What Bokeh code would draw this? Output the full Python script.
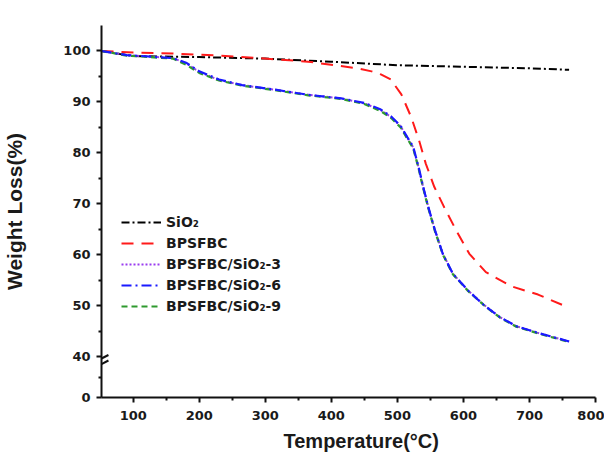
from bokeh.plotting import figure
from bokeh.models import Range1d, FixedTicker, Legend, LegendItem, Title
from bokeh.embed import file_html
from bokeh.resources import INLINE

# Thermogravimetric curves: temperature (°C) vs remaining weight (%)
temp_sio2 = [52, 80, 100, 200, 300, 400, 500, 600, 700, 760]
wt_sio2 = [100, 99.4, 99.0, 98.8, 98.5, 97.9, 97.2, 96.9, 96.6, 96.3]

temp_bpsfbc = [52, 100, 160, 230, 290, 365, 440, 461, 475, 490, 506, 521, 533, 543,
               556, 571, 589, 609, 634, 673, 713, 760]
wt_bpsfbc = [100, 99.7, 99.5, 99.1, 98.6, 97.9, 96.6, 96.0, 95.4, 94.4, 91.5, 87.0,
             82.4, 77.9, 73.3, 69.3, 64.8, 60.2, 56.6, 53.8, 52.2, 49.6]

temp_comp = [52, 90, 160, 180, 200, 230, 265, 315, 365, 415, 450, 475, 491, 505,
             515, 524, 532, 539, 547, 557, 569, 584, 607, 632, 655, 680, 715, 760]
wt_comp3 = [100, 99.2, 98.6, 97.6, 95.9, 94.3, 93.3, 92.4, 91.4, 90.7, 89.7, 88.4,
            87.0, 85.2, 83.0, 81.1, 77.2, 73.3, 69.3, 64.8, 60.2, 56.3, 53.0, 50.1,
            47.8, 46.0, 44.6, 43.0]
wt_comp6 = [100, 99.2, 98.6, 97.7, 96.0, 94.4, 93.3, 92.4, 91.4, 90.7, 89.8, 88.5,
            87.1, 85.3, 83.1, 81.2, 77.3, 73.4, 69.3, 64.8, 60.1, 56.3, 53.0, 50.0,
            47.8, 46.0, 44.6, 43.0]
wt_comp9 = [100, 99.1, 98.5, 97.3, 95.7, 94.2, 93.2, 92.3, 91.3, 90.6, 89.6, 88.2,
            86.8, 85.0, 82.8, 80.9, 77.0, 73.1, 69.1, 64.6, 60.0, 56.2, 52.9, 50.0,
            47.7, 45.9, 44.5, 42.9]

# Broken y axis: values 40..100 plotted as-is, the 0..40 stretch compressed
# so that 0 sits at 32 on the plot scale.
y_tick_values = [32, 40, 50, 60, 70, 80, 90, 100]
y_tick_labels = ["0", "40", "50", "60", "70", "80", "90", "100"]
x_tick_values = [100, 200, 300, 400, 500, 600, 700, 800]
x_start = 52

FONT = "DejaVu Sans"
TITLE_FONT = "Liberation Sans"
INK = "#111111"

p = figure(width=604, height=459, output_backend="svg", toolbar_location=None,
           x_range=Range1d(x_start, 800), y_range=Range1d(32, 105),
           min_border_left=98, min_border_right=9, min_border_top=25,
           min_border_bottom=62)
p.outline_line_color = None
p.grid.visible = False
p.background_fill_color = "white"

r_sio2 = p.line(temp_sio2, wt_sio2, line_color="black", line_width=2,
                line_dash="8 3 2 3")
r_bps = p.line(temp_bpsfbc, wt_bpsfbc, line_color="#ff1a1a", line_width=2,
               line_dash="12 8")
r_c3 = p.line(temp_comp, wt_comp3, line_color="#9a3cf0", line_width=2,
              line_dash="2 2")
r_c9 = p.line(temp_comp, wt_comp9, line_color="#2e9a2e", line_width=2.2,
              line_dash="6 4")
r_c6 = p.line(temp_comp, wt_comp6, line_color="#1a1aff", line_width=2.2,
              line_dash="10 4 2 4")

legend = Legend(items=[
    LegendItem(label="SiO\u2082", renderers=[r_sio2]),
    LegendItem(label="BPSFBC", renderers=[r_bps]),
    LegendItem(label="BPSFBC/SiO\u2082-3", renderers=[r_c3]),
    LegendItem(label="BPSFBC/SiO\u2082-6", renderers=[r_c6]),
    LegendItem(label="BPSFBC/SiO\u2082-9", renderers=[r_c9]),
], location=(20, 81))
legend.border_line_color = None
legend.background_fill_alpha = 0
legend.padding = 0
legend.margin = 0
legend.spacing = 1
legend.glyph_width = 40
legend.glyph_height = 20
legend.label_height = 20
legend.label_standoff = 5
legend.label_text_font = FONT
legend.label_text_font_style = "bold"
legend.label_text_font_size = "14px"
legend.label_text_color = "#1a1a1a"
p.add_layout(legend, "center")

# Axes
xa = p.xaxis[0]
xa.ticker = FixedTicker(ticks=x_tick_values,
                        minor_ticks=[150, 250, 350, 450, 550, 650, 750])
ya = p.yaxis[0]
ya.ticker = FixedTicker(ticks=y_tick_values,
                        minor_ticks=[36, 45, 55, 65, 75, 85, 95])
ya.major_label_overrides = {v: s for v, s in zip(y_tick_values, y_tick_labels)}
ya.axis_label = "Weight Loss(%)"

for ax in (xa, ya):
    ax.axis_line_width = 2
    ax.axis_line_color = INK
    ax.major_tick_line_width = 2
    ax.minor_tick_line_width = 2
    ax.major_tick_line_color = INK
    ax.minor_tick_line_color = INK
    ax.major_tick_out = 5
    ax.major_tick_in = 0
    ax.minor_tick_out = 3
    ax.minor_tick_in = 0
    ax.major_label_text_font = FONT
    ax.major_label_text_font_style = "bold"
    ax.major_label_text_font_size = "13px"
    ax.major_label_text_color = "#1a1a1a"
    ax.axis_label_text_font = TITLE_FONT
    ax.axis_label_text_font_style = "bold"
    ax.axis_label_text_color = "#1a1a1a"

xa.major_label_standoff = 8
ya.major_label_standoff = 6
ya.axis_label_text_font_size = "21px"
ya.axis_label_standoff = 34

# x-axis title, set a little right of the frame centre
p.add_layout(Title(text="Temperature(\u00b0C)", align="left", offset=182,
                   text_font=TITLE_FONT, text_font_style="bold",
                   text_font_size="20px", text_color="#1a1a1a",
                   standoff=10), "below")

# Axis-break slashes just right of the y axis, between 0 and 40
bx1 = x_start + 10.5
p.segment(x0=[x_start, x_start], y0=[39.65, 38.57],
          x1=[bx1, bx1], y1=[40.34, 39.26],
          line_color=INK, line_width=2)

open("out.html", "w").write(file_html(p, INLINE))
